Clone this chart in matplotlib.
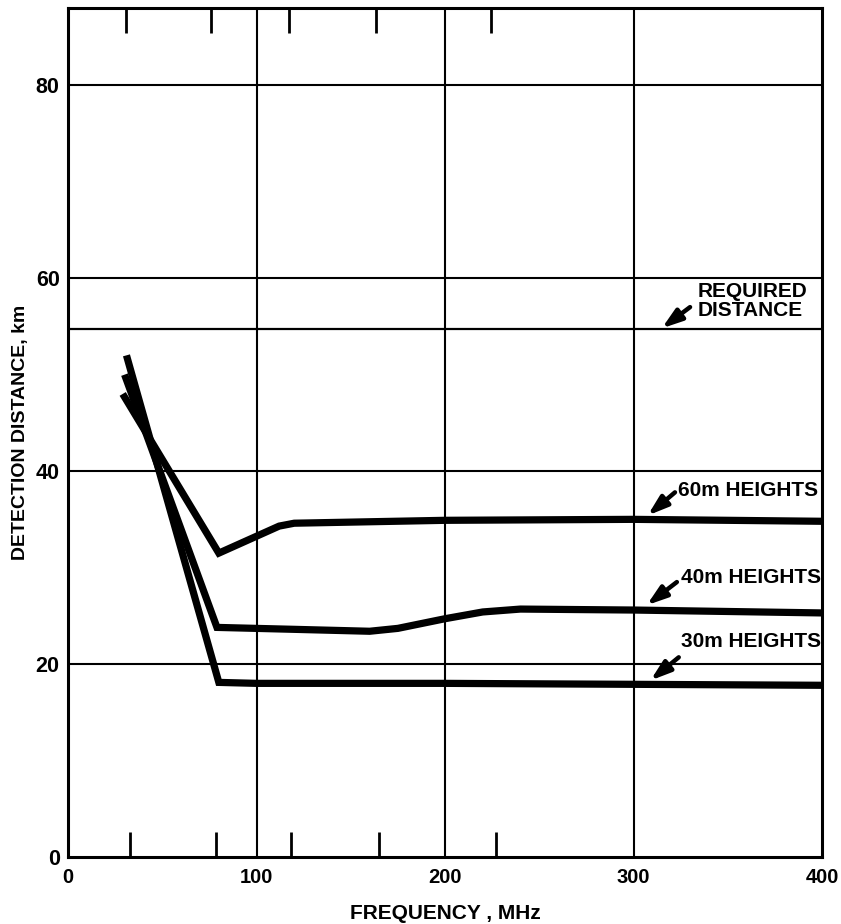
import matplotlib
matplotlib.use("Agg")
import matplotlib.pyplot as plt

plt.rcParams['font.family'] = ['Liberation Sans', 'DejaVu Sans']
plt.rcParams['font.weight'] = 'bold'

# detection distance curves, km vs frequency, MHz
freq_30m = [31, 80, 100, 200, 300, 400]
dist_30m = [52.0, 18.1, 18.0, 18.0, 17.9, 17.8]

freq_40m = [30, 79, 120, 160, 175, 200, 220, 240, 300, 400]
dist_40m = [50.0, 23.8, 23.6, 23.4, 23.7, 24.7, 25.4, 25.7, 25.6, 25.3]

freq_60m = [29, 80, 112, 120, 200, 300, 400]
dist_60m = [48.0, 31.5, 34.3, 34.6, 34.9, 35.0, 34.8]

required_distance = 54.7

x_ticks = [0, 100, 200, 300, 400]
y_ticks = [0, 20, 40, 60, 80]
band_marks_bottom = [33, 78.5, 118.5, 165, 227]
band_marks_top = [31, 76, 117, 163.5, 224.5]

# (text, text position, arrow tail, arrow head)
labels = [
    ("REQUIRED\nDISTANCE", (334, 57.6), (330, 57.0), (315, 54.8)),
    ("60m HEIGHTS", (323.5, 38.0), (322, 37.8), (307.5, 35.4)),
    ("40m HEIGHTS", (325, 29.0), (323, 28.5), (307, 26.1)),
    ("30m HEIGHTS", (325, 22.3), (324, 20.7), (309, 18.3)),
]

fig = plt.figure(figsize=(8.41, 9.24), dpi=100)
ax = fig.add_axes([0.0809, 0.0725, 0.8965, 0.9188])

for y in y_ticks[1:]:
    ax.axhline(y, color='black', lw=1.5, zorder=1)
for x in x_ticks[1:-1]:
    ax.axvline(x, color='black', lw=1.5, zorder=1)
ax.axhline(required_distance, color='black', lw=1.6, zorder=1)

for fx, dy in [(freq_30m, dist_30m), (freq_40m, dist_40m), (freq_60m, dist_60m)]:
    ax.plot(fx, dy, color='black', lw=5.2, solid_joinstyle='miter', solid_capstyle='butt', zorder=3)

for text, tpos, tail, head in labels:
    ax.text(tpos[0], tpos[1], text, fontsize=15, fontweight='bold', ha='left', va='center',
            linespacing=1.0)
    ax.annotate('', xy=head, xytext=tail,
                arrowprops=dict(arrowstyle='-|>,head_length=0.6,head_width=0.2', color='black',
                                lw=3.2, mutation_scale=20, shrinkA=0, shrinkB=0))

ax.set_xlim(0, 400)
ax.set_ylim(0, 88)
ax.set_xticks(x_ticks)
ax.set_yticks(y_ticks)
ax.set_xticks(band_marks_bottom, minor=True)
ax.tick_params(axis='x', which='major', length=0, labelsize=14.5, pad=8)
ax.tick_params(axis='y', which='major', length=0, labelsize=15.5, pad=6)
ax.tick_params(axis='x', which='minor', direction='in', length=18, width=2)

top = ax.secondary_xaxis('top')
top.set_xticks([])
top.set_xticks(band_marks_top, minor=True)
top.tick_params(which='minor', direction='in', length=18, width=2)
top.spines['top'].set_visible(False)

for s in ax.spines.values():
    s.set_linewidth(2.2)

ax.set_xlabel('FREQUENCY , MHz', fontsize=15, fontweight='bold', labelpad=12)
ax.set_ylabel('DETECTION DISTANCE, km', fontsize=14, fontweight='bold', labelpad=5)

fig.savefig('out.png', dpi=100)
